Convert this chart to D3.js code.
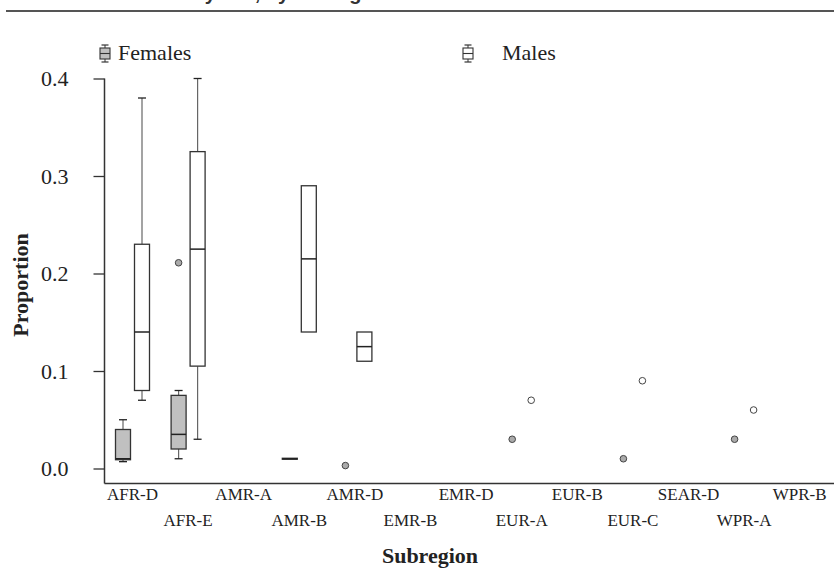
<!DOCTYPE html>
<html>
<head>
<meta charset="utf-8">
<script src="https://cdn.jsdelivr.net/npm/d3@7"></script>
<style>
  body { margin: 0; background: #fff; }
  svg { display: block; }
</style>
</head>
<body>
<main></main>
<script>
// data
const subregions = ["AFR-D", "AFR-E", "AMR-A", "AMR-B", "AMR-D", "EMR-B", "EMR-D",
                    "EUR-A", "EUR-B", "EUR-C", "SEAR-D", "WPR-A", "WPR-B"];
const yTicks = [0, 0.1, 0.2, 0.3, 0.4];
const groups = ["Females", "Males"];

// [subregion, lower whisker, q1, median, q3, upper whisker]
const femaleBoxes = [
  ["AFR-D", 0.007, 0.009, 0.010, 0.040, 0.050],
  ["AFR-E", 0.010, 0.020, 0.035, 0.075, 0.080],
  ["AMR-B", 0.0095, 0.0095, 0.010, 0.0105, 0.0105]
];
const maleBoxes = [
  ["AFR-D", 0.070, 0.080, 0.140, 0.230, 0.380],
  ["AFR-E", 0.030, 0.105, 0.225, 0.325, 0.400],
  ["AMR-B", 0.140, 0.140, 0.215, 0.290, 0.290],
  ["AMR-D", 0.110, 0.110, 0.125, 0.140, 0.140]
];
// single points / outliers
const femalePoints = [["AFR-E", 0.211], ["AMR-D", 0.003], ["EUR-A", 0.03], ["EUR-C", 0.01], ["WPR-A", 0.03]];
const malePoints = [["EUR-A", 0.07], ["EUR-C", 0.09], ["WPR-A", 0.06]];

const width = 834, height = 568;
const serif = "'Liberation Serif', 'Times New Roman', serif";
const fill = {Females: "#c0c0c0", Males: "#ffffff"};
const shift = {Females: -9.5, Males: 9.5};
const boxW = 15;

const svg = d3.select("main").append("svg")
  .attr("width", width)
  .attr("height", height);

// caption above the figure, cut off by the top edge
svg.append("text")
  .attr("x", 128)
  .attr("y", 0)
  .style("font-family", "'Liberation Sans', Arial, sans-serif")
  .style("font-weight", "bold")
  .style("font-size", "20px")
  .style("fill", "#333")
  .text("Cases by sex, by subregion");
svg.append("line")
  .attr("x1", 6).attr("x2", width)
  .attr("y1", 11).attr("y2", 11)
  .attr("stroke", "#555").attr("stroke-width", 2);

const x = d3.scalePoint().domain(subregions).range([132.5, 799.7]);
const y = d3.scaleLinear().domain([0, 0.4]).range([468.5, 78.5]);

// axes
const axisX = 104.5, axisBottom = 483.5;
svg.append("line")
  .attr("x1", axisX).attr("x2", axisX)
  .attr("y1", y(0.4)).attr("y2", axisBottom)
  .attr("stroke", "#333").attr("stroke-width", 1.5);
svg.append("line")
  .attr("x1", axisX).attr("x2", width)
  .attr("y1", axisBottom).attr("y2", axisBottom)
  .attr("stroke", "#333").attr("stroke-width", 1.5);

const yAxis = svg.append("g")
  .attr("transform", `translate(${axisX},0)`)
  .call(d3.axisLeft(y).tickValues(yTicks).tickFormat(d3.format(".1f")).tickSize(11).tickPadding(25));
yAxis.select(".domain").remove();
yAxis.selectAll("line").attr("stroke", "#333").attr("stroke-width", 1.3);
yAxis.selectAll("text")
  .style("font-family", serif)
  .style("font-size", "22px")
  .attr("fill", "#222");

svg.selectAll(".xlab")
  .data(subregions)
  .enter()
  .append("text")
  .attr("class", "xlab")
  .attr("x", d => x(d))
  .attr("y", (d, i) => i % 2 === 0 ? 500 : 526)
  .attr("text-anchor", "middle")
  .style("font-family", serif)
  .style("font-size", "17px")
  .style("fill", "#222")
  .text(d => d);

svg.append("text")
  .attr("x", 430)
  .attr("y", 563)
  .attr("text-anchor", "middle")
  .style("font-family", serif)
  .style("font-size", "22px")
  .style("font-weight", "bold")
  .style("fill", "#222")
  .text("Subregion");

svg.append("text")
  .attr("transform", "translate(28,285) rotate(-90)")
  .attr("text-anchor", "middle")
  .style("font-family", serif)
  .style("font-size", "22px")
  .style("font-weight", "bold")
  .style("fill", "#222")
  .text("Proportion");

// boxes
function drawBoxes(rows, group) {
  const g = svg.append("g").attr("class", "boxes-" + group);
  const b = g.selectAll("g").data(rows).enter().append("g");
  const cx = d => x(d[0]) + shift[group];
  b.append("line")
    .attr("x1", cx).attr("x2", cx)
    .attr("y1", d => y(d[1])).attr("y2", d => y(d[2]))
    .attr("stroke", "#666").attr("stroke-width", 1.2);
  b.append("line")
    .attr("x1", cx).attr("x2", cx)
    .attr("y1", d => y(d[4])).attr("y2", d => y(d[5]))
    .attr("stroke", "#666").attr("stroke-width", 1.2);
  b.filter(d => d[1] < d[2]).append("line")
    .attr("x1", d => cx(d) - 4).attr("x2", d => cx(d) + 4)
    .attr("y1", d => y(d[1])).attr("y2", d => y(d[1]))
    .attr("stroke", "#222").attr("stroke-width", 1.3);
  b.filter(d => d[5] > d[4]).append("line")
    .attr("x1", d => cx(d) - 4).attr("x2", d => cx(d) + 4)
    .attr("y1", d => y(d[5])).attr("y2", d => y(d[5]))
    .attr("stroke", "#222").attr("stroke-width", 1.3);
  b.append("rect")
    .attr("x", d => cx(d) - boxW / 2)
    .attr("width", boxW)
    .attr("y", d => y(d[4]))
    .attr("height", d => Math.max(y(d[2]) - y(d[4]), 0.5))
    .attr("fill", fill[group])
    .attr("stroke", "#333").attr("stroke-width", 1.3);
  b.append("line")
    .attr("x1", d => cx(d) - boxW / 2).attr("x2", d => cx(d) + boxW / 2)
    .attr("y1", d => y(d[3])).attr("y2", d => y(d[3]))
    .attr("stroke", "#222").attr("stroke-width", 1.5);
}
drawBoxes(femaleBoxes, "Females");
drawBoxes(maleBoxes, "Males");

function drawPoints(rows, group) {
  svg.append("g").selectAll("circle")
    .data(rows)
    .enter()
    .append("circle")
    .attr("cx", d => x(d[0]) + shift[group])
    .attr("cy", d => y(d[1]))
    .attr("r", 3.3)
    .attr("fill", group === "Males" ? "#fff" : "#aaa")
    .attr("stroke", "#444").attr("stroke-width", 1);
}
drawPoints(femalePoints, "Females");
drawPoints(malePoints, "Males");

// legend
const legendX = {Females: 105, Males: 468};
const leg = svg.append("g").selectAll("g").data(groups).enter().append("g")
  .attr("transform", d => `translate(${legendX[d]},0)`);
leg.append("line").attr("x1", 0).attr("x2", 0).attr("y1", 45).attr("y2", 62)
  .attr("stroke", "#333").attr("stroke-width", 1);
leg.append("line").attr("x1", -3.5).attr("x2", 3.5).attr("y1", 45).attr("y2", 45)
  .attr("stroke", "#333").attr("stroke-width", 1.2);
leg.append("line").attr("x1", -3.5).attr("x2", 3.5).attr("y1", 62).attr("y2", 62)
  .attr("stroke", "#333").attr("stroke-width", 1.2);
leg.append("rect").attr("x", -5).attr("y", 48).attr("width", 10).attr("height", 11)
  .attr("fill", d => fill[d]).attr("stroke", "#333").attr("stroke-width", 1.1);
leg.append("line").attr("x1", -5).attr("x2", 5).attr("y1", 53.5).attr("y2", 53.5)
  .attr("stroke", "#333").attr("stroke-width", 1.1);
leg.append("text")
  .attr("x", d => d === "Females" ? 13 : 34)
  .attr("y", 60)
  .style("font-family", serif)
  .style("font-size", "22px")
  .style("fill", "#222")
  .text(d => d);
</script>
</body>
</html>
